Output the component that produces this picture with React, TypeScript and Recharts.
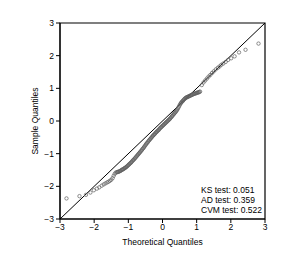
import { ScatterChart, Scatter, XAxis, YAxis, ReferenceLine, ReferenceArea } from 'recharts';

// theoretical quantiles (x) and sample quantiles (y)
const theoretical = [
  -2.81, -2.43, -2.24, -2.11, -2.01, -1.92, -1.85, -1.78, -1.72, -1.67, -1.62, -1.58, -1.54, -1.5, -1.46, -1.43, -1.4, -1.37,
  -1.34, -1.32, -1.3, -1.28, -1.26, -1.24, -1.22, -1.2, -1.18, -1.16, -1.14, -1.12, -1.1, -1.08, -1.06, -1.04, -1.02, -1.0,
  -0.98, -0.96, -0.94, -0.92, -0.9, -0.88, -0.86, -0.84, -0.82, -0.8, -0.78, -0.76, -0.74, -0.72, -0.7, -0.68, -0.66, -0.64,
  -0.62, -0.6, -0.58, -0.56, -0.54, -0.52, -0.5, -0.48, -0.46, -0.44, -0.42, -0.4, -0.38, -0.36, -0.34, -0.32, -0.3, -0.28,
  -0.26, -0.24, -0.22, -0.2, -0.18, -0.16, -0.14, -0.12, -0.1, -0.08, -0.06, -0.04, -0.02, 0.0,
  0.02, 0.04, 0.06, 0.08, 0.1, 0.12, 0.14, 0.16, 0.18, 0.2, 0.22, 0.24, 0.26, 0.28, 0.3, 0.32, 0.34, 0.36, 0.38, 0.4,
  0.42, 0.44, 0.46, 0.48, 0.5, 0.52, 0.54, 0.56, 0.58, 0.6, 0.62, 0.64, 0.66, 0.68, 0.7, 0.72, 0.74, 0.76, 0.78, 0.8,
  0.82, 0.84, 0.86, 0.88, 0.9, 0.92, 0.94, 0.96, 0.98, 1.0, 1.02, 1.04, 1.06, 1.08, 1.1,
  1.15, 1.2, 1.25, 1.3, 1.35, 1.4, 1.45, 1.5, 1.56, 1.62, 1.67, 1.72, 1.78, 1.85, 1.92, 2.01, 2.11, 2.24, 2.43, 2.81,
];
const sample = [
  -2.37, -2.3, -2.26, -2.19, -2.12, -2.07, -2.03, -1.98, -1.94, -1.91, -1.88, -1.86, -1.83, -1.8, -1.75, -1.68, -1.62, -1.58,
  -1.57, -1.56, -1.56, -1.55, -1.54, -1.53, -1.52, -1.5, -1.49, -1.48, -1.47, -1.45, -1.44, -1.42, -1.41, -1.39, -1.37, -1.35,
  -1.33, -1.31, -1.29, -1.27, -1.25, -1.22, -1.2, -1.18, -1.16, -1.13, -1.11, -1.08, -1.06, -1.03, -1.01, -0.98, -0.96, -0.93,
  -0.91, -0.88, -0.85, -0.83, -0.8, -0.77, -0.74, -0.71, -0.68, -0.66, -0.63, -0.6, -0.58, -0.55, -0.53, -0.5, -0.48, -0.45,
  -0.43, -0.41, -0.39, -0.36, -0.34, -0.32, -0.3, -0.28, -0.26, -0.23, -0.21, -0.19, -0.17, -0.15,
  -0.13, -0.11, -0.09, -0.07, -0.05, -0.03, -0.01, 0.01, 0.03, 0.05, 0.07, 0.1, 0.12, 0.15, 0.17, 0.2, 0.22, 0.25, 0.27, 0.3,
  0.33, 0.36, 0.4, 0.44, 0.48, 0.52, 0.55, 0.58, 0.6, 0.62, 0.65, 0.67, 0.69, 0.71, 0.72, 0.73, 0.74, 0.75, 0.76, 0.77,
  0.78, 0.79, 0.8, 0.81, 0.82, 0.83, 0.84, 0.84, 0.85, 0.86, 0.87, 0.87, 0.88, 0.89, 0.9,
  1.1, 1.18, 1.24, 1.3, 1.36, 1.41, 1.47, 1.52, 1.58, 1.63, 1.67, 1.72, 1.76, 1.81, 1.87, 1.92, 1.98, 2.1, 2.18, 2.37,
];
const axisTicks = [-3, -2, -1, 0, 1, 2, 3];
const testLines = ['KS test: 0.051', 'AD test: 0.359', 'CVM test: 0.522'];

const points = theoretical.map((x, i) => ({ x, y: sample[i] }));
const font = '"Liberation Sans", Arial, sans-serif';
const tickStyle = { fontSize: 8.5, fill: '#000', fontFamily: font };
const fmt = (v: number) => String(v).replace('-', '\u2212');

const Dot = (props: any) => (
  <circle cx={props.cx} cy={props.cy} r={1.7} fill="none" stroke="#5e5e5e" strokeWidth={0.7} />
);

export default function App() {
  return (
    <div style={{ position: 'absolute', left: 0, top: 0, width: 293, height: 254, background: '#fff' }}>
      <ScatterChart width={293} height={254} margin={{ top: 23, right: 28, left: 0, bottom: 0 }}>
        <XAxis
          type="number"
          dataKey="x"
          domain={[-3, 3]}
          ticks={axisTicks}
          allowDataOverflow
          tick={tickStyle}
          tickFormatter={fmt}
          tickSize={4}
          tickMargin={1}
          height={35}
          stroke="#000"
          label={{ value: 'Theoretical Quantiles', position: 'insideBottom', offset: 9, style: { ...tickStyle } }}
        />
        <YAxis
          type="number"
          dataKey="y"
          domain={[-3, 3]}
          ticks={axisTicks}
          allowDataOverflow
          tick={tickStyle}
          tickFormatter={fmt}
          tickSize={4}
          tickMargin={2}
          width={60}
          stroke="#000"
          label={{ value: 'Sample Quantiles', angle: -90, position: 'insideLeft', offset: 35, style: { ...tickStyle, textAnchor: 'middle' } }}
        />
        <ReferenceArea x1={-3} x2={3} y1={-3} y2={3} fill="none" stroke="#000" strokeWidth={1.2} ifOverflow="visible" />
        <ReferenceLine segment={[{ x: -3, y: -3 }, { x: 3, y: 3 }]} stroke="#000" strokeWidth={1} ifOverflow="visible" />
        <Scatter data={points} shape={Dot} isAnimationActive={false} />
      </ScatterChart>
      <div style={{ position: 'absolute', left: 201, top: 185, fontFamily: font, fontSize: 8.5, lineHeight: '10px', color: '#000' }}>
        {testLines.map((t) => (
          <div key={t}>{t}</div>
        ))}
      </div>
    </div>
  );
}
